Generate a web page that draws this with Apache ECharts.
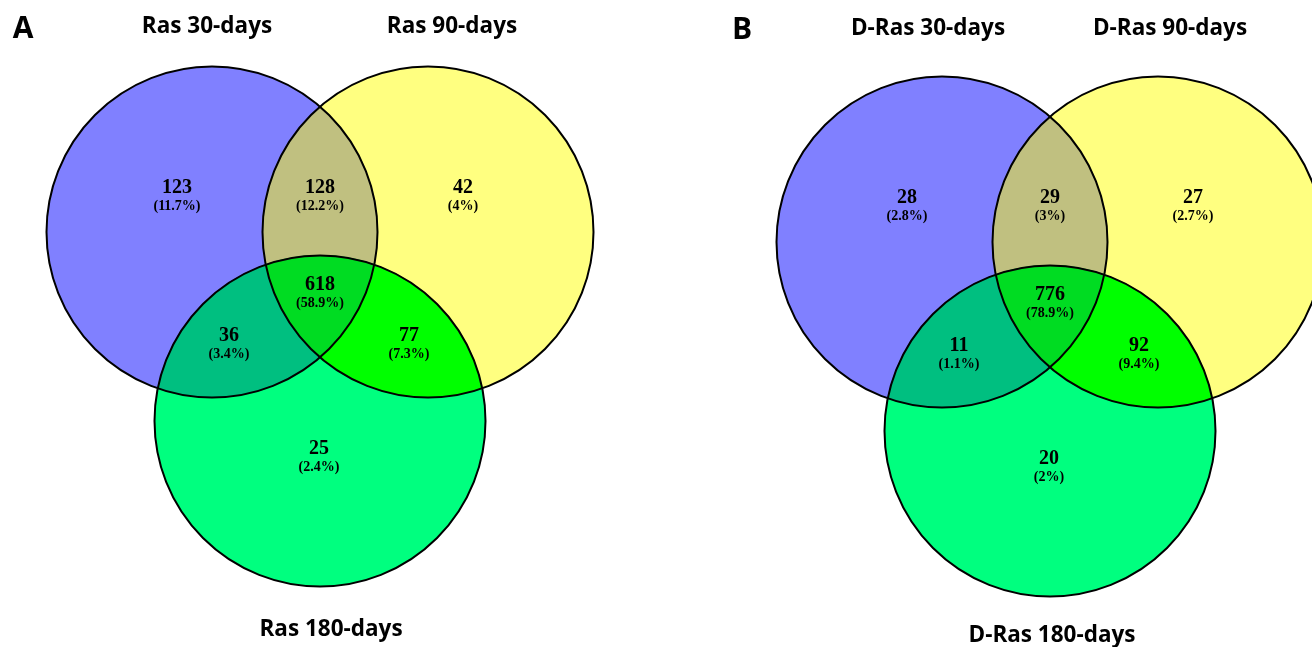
<!DOCTYPE html>
<html><head><meta charset="utf-8">
<script src="https://cdn.jsdelivr.net/npm/echarts@6/dist/echarts.min.js"></script>
<style>html,body{margin:0;padding:0;background:#fff}#c{width:1312px;height:647px}</style>
</head><body><div id="c"></div>
<script>
// ---------------- DATA ----------------
const panelLetters = ['A', 'B'];
const setNamesA = ['Ras 30-days', 'Ras 90-days', 'Ras 180-days'];
const setNamesB = ['D-Ras 30-days', 'D-Ras 90-days', 'D-Ras 180-days'];
// region order: only 1, 1&2, only 2, 1&2&3, 1&3, 2&3, only 3
const regionKeys = ['1', '12', '2', '123', '13', '23', '3'];
const countsA = [123, 128, 42, 618, 36, 77, 25];
const percentA = ['11.7%', '12.2%', '4%', '58.9%', '3.4%', '7.3%', '2.4%'];
const countsB = [28, 29, 27, 776, 11, 92, 20];
const percentB = ['2.8%', '3%', '2.7%', '78.9%', '1.1%', '9.4%', '2%'];

// ---------------- LAYOUT / STYLE ----------------
const baseCircles = [[212, 232], [428, 232], [320, 421]];
const baseRadius = 165.5;
const panelOffsets = [[0, 0], [730, 10]];
const baseLabelPos = {
  '1': [177, 188], '12': [320, 188], '2': [463, 188], '123': [320, 285],
  '13': [229, 336], '23': [409, 336], '3': [319, 449]
};
const pctDy = 18;
const titlePos = [
  [[207, 27], [452, 27], [331, 630]],
  [[928, 29], [1170, 29], [1052, 636]]
];
const letterPos = [[23, 29], [742, 30]];
const circleColors = ['#8080FF', '#FFFF80', '#00FF7F'];
const overlapColors = { '12': '#C0C080', '13': '#00BF80', '23': '#00FF00', '123': '#00DC22' };

const panels = [
  { names: setNamesA, counts: countsA, pct: percentA },
  { names: setNamesB, counts: countsB, pct: percentB }
];

function circlesOf(p) {
  const o = panelOffsets[p];
  return baseCircles.map(c => ({ x: c[0] + o[0], y: c[1] + o[1], r: baseRadius }));
}

function regionPolygon(circles, idxs) {
  const pts = [];
  const N = 1440;
  idxs.forEach(i => {
    const c = circles[i];
    for (let k = 0; k < N; k++) {
      const a = 2 * Math.PI * k / N;
      const p = [c.x + c.r * Math.cos(a), c.y + c.r * Math.sin(a)];
      if (idxs.every(j => j === i || Math.hypot(p[0] - circles[j].x, p[1] - circles[j].y) <= circles[j].r + 1e-6)) pts.push(p);
    }
  });
  let mx = 0, my = 0;
  pts.forEach(p => { mx += p[0]; my += p[1]; });
  mx /= pts.length; my /= pts.length;
  pts.sort((p, q) => Math.atan2(p[1] - my, p[0] - mx) - Math.atan2(q[1] - my, q[0] - mx));
  return pts;
}

// build series data
const circleData = [];
const overlapData = [];
const labelData = [];
panels.forEach((pn, p) => {
  const cs = circlesOf(p);
  cs.forEach((c, i) => circleData.push({ value: [c.x, c.y, c.r], color: circleColors[i] }));
  ['12', '13', '23', '123'].forEach(key => {
    const idxs = key.split('').map(d => +d - 1);
    overlapData.push({ value: [cs[0].x, cs[0].y], poly: regionPolygon(cs, idxs), color: overlapColors[key] });
  });
  regionKeys.forEach((key, k) => {
    const bp = baseLabelPos[key];
    const o = panelOffsets[p];
    labelData.push({ value: [bp[0] + o[0], bp[1] + o[1]], count: pn.counts[k], pct: pn.pct[k] });
  });
});

const graphics = [];
panels.forEach((pn, p) => {
  graphics.push({
    type: 'text', x: letterPos[p][0], y: letterPos[p][1],
    style: { text: panelLetters[p], font: 'bold 30px "Open Sans"', fill: '#000',
      textAlign: 'center', textVerticalAlign: 'middle', align: 'center', verticalAlign: 'middle' }
  });
  pn.names.forEach((nm, i) => {
    graphics.push({
      type: 'text', x: titlePos[p][i][0], y: titlePos[p][i][1],
      style: { text: nm, font: 'bold 22.5px "Open Sans"', fill: '#000',
        textAlign: 'center', textVerticalAlign: 'middle', align: 'center', verticalAlign: 'middle' }
    });
  });
});

const chart = echarts.init(document.getElementById('c'), null, { renderer: 'canvas' });
chart.setOption({
  animation: false,
  grid: { left: 0, right: 0, top: 0, bottom: 0, containLabel: false },
  xAxis: { type: 'value', min: 0, max: 1312, show: false },
  yAxis: { type: 'value', min: 0, max: 647, inverse: true, show: false },
  graphic: graphics,
  series: [
    {
      type: 'custom', clip: false, z: 1,
      data: circleData,
      renderItem: (params, api) => {
        const d = circleData[params.dataIndex];
        const c = api.coord([d.value[0], d.value[1]]);
        const r = api.size([d.value[2], 0])[0];
        return { type: 'circle', shape: { cx: c[0], cy: c[1], r: r }, style: { fill: d.color, stroke: null } };
      }
    },
    {
      type: 'custom', clip: false, z: 2,
      data: overlapData,
      renderItem: (params, api) => {
        const d = overlapData[params.dataIndex];
        const pts = d.poly.map(p => api.coord(p));
        return { type: 'polygon', shape: { points: pts }, style: { fill: d.color, stroke: d.color, lineWidth: 0.5 } };
      }
    },
    {
      type: 'custom', clip: false, z: 3,
      data: circleData,
      renderItem: (params, api) => {
        const d = circleData[params.dataIndex];
        const c = api.coord([d.value[0], d.value[1]]);
        const r = api.size([d.value[2], 0])[0];
        return { type: 'circle', shape: { cx: c[0], cy: c[1], r: r }, style: { fill: null, stroke: '#000', lineWidth: 2 } };
      }
    },
    {
      type: 'custom', clip: false, z: 4,
      data: labelData,
      renderItem: (params, api) => {
        const d = labelData[params.dataIndex];
        const c = api.coord(d.value);
        return {
          type: 'group',
          children: [
            { type: 'text', x: c[0], y: c[1],
              style: { text: String(d.count), font: 'bold 20px "Liberation Serif"', fill: '#000',
                textAlign: 'center', textVerticalAlign: 'middle', align: 'center', verticalAlign: 'middle' } },
            { type: 'text', x: c[0], y: c[1] + pctDy,
              style: { text: '(' + d.pct + ')', font: 'bold 14px "Liberation Serif"', fill: '#000',
                textAlign: 'center', textVerticalAlign: 'middle', align: 'center', verticalAlign: 'middle' } }
          ]
        };
      }
    }
  ]
});
</script>
</body></html>
